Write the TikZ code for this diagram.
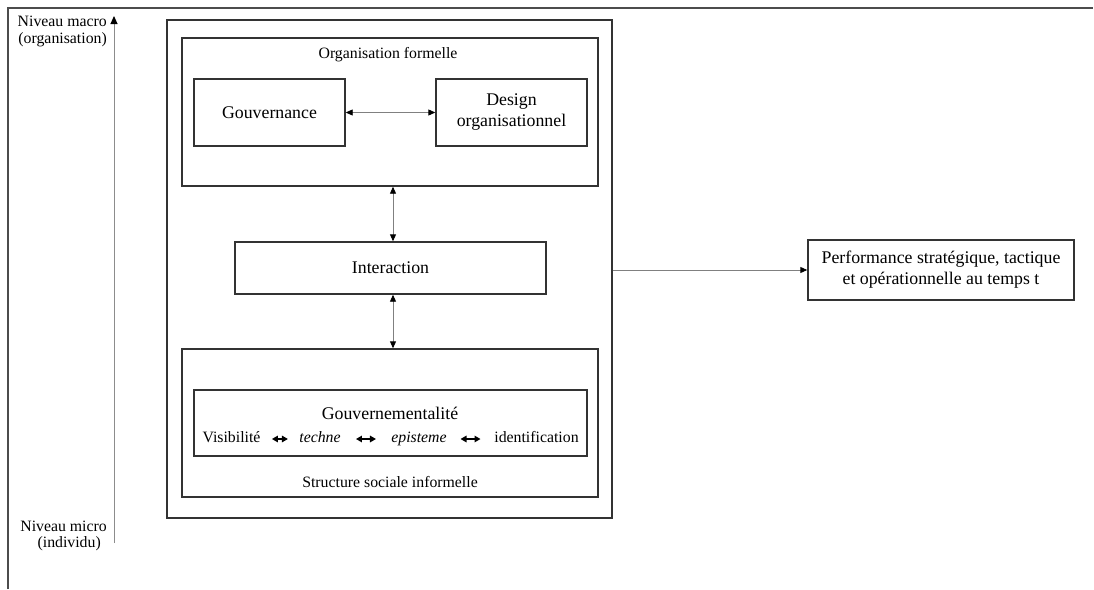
\documentclass[tikz,border=0pt]{standalone}
\usepackage{fontspec}
\setmainfont{Liberation Serif}
\usetikzlibrary{arrows.meta,calc}
\begin{document}
\begin{tikzpicture}[x=1pt,y=-1pt,
  box/.style={draw=black!80,line width=1.4pt,inner sep=0pt},
  big/.style={font=\fontsize{17.8}{21}\selectfont},
  small/.style={font=\fontsize{15.8}{19}\selectfont,inner sep=0pt},
  word/.style={small,text height=11pt,text depth=3.5pt},
  link/.style={draw=black!50,line width=0.9pt,{Triangle[length=7pt,width=6pt,color=black]}-{Triangle[length=7pt,width=6pt,color=black]}},
  flow/.style={draw=black!50,line width=0.9pt,-{Triangle[length=7pt,width=6pt,color=black]}},
  duo/.style={draw=black,line width=1.4pt,{Triangle[length=6pt,width=6.5pt]}-{Triangle[length=6pt,width=6.5pt]}},
  frame/.style={draw=black!70,line width=1.3pt}
]
\useasboundingbox (0,0) rectangle (1094,589);

% page frame
\draw[frame] (8,589) -- (8,8) -- (1093,8);

% level axis
\node[small,anchor=east] (macro1) at (107,21) {Niveau macro};
\node[small,anchor=east] (macro2) at (107,40) {(organisation)};
\node[small,anchor=east] (micro1) at (107,526) {Niveau micro};
\node[small,anchor=east] (micro2) at (101,544) {(individu)};
\coordinate (axbot) at (114,543);
\coordinate (axtop) at (114,16);
\draw[draw=black!45,line width=1pt,-{Triangle[length=8pt,width=7pt,color=black]}] (axbot) -- (axtop);

% organisation frame
\node[box,minimum width=445,minimum height=498] (outer) at (389.5,269) {};

% formal organisation
\node[box,minimum width=416,minimum height=148] (formal) at (390,112) {};
\node[small] (formallbl) at (388,55) {Organisation formelle};
\node[box,big,minimum width=151,minimum height=67] (gouv) at (269.5,112.5) {Gouvernance};
\node[box,big,minimum width=151,minimum height=67,align=center] (design) at (511.5,112.5) {Design\\organisationnel};

% interaction
\node[box,big,minimum width=311,minimum height=52] (inter) at (390.5,268) {Interaction};

% informal social structure
\node[box,minimum width=416,minimum height=148] (informal) at (390,423) {};
\node[box,minimum width=393,minimum height=66] (govtal) at (390.5,423) {};
\node[big,inner sep=0pt] (govtlbl) at (390,413) {Gouvernementalité};
\node[word] (vis) at (231.5,439) {Visibilité};
\node[word] (tech) at (320,439) {\itshape techne};
\node[word] (epis) at (419,439) {\itshape episteme};
\node[word] (ident) at (536.5,439) {identification};
\node[small] (struct) at (390,482) {Structure sociale informelle};

% performance
\node[box,big,minimum width=266,minimum height=60,align=center] (perf) at (941,270) {Performance stratégique, tactique\\et opérationnelle au temps t};

% connectors
\draw[link] (gouv.east) -- (design.west);
\draw[link] ([xshift=3pt]formal.south) -- ([xshift=2.5pt]inter.north);
\draw[link] ([xshift=2.5pt]inter.south) -- ([xshift=3pt]informal.north);
\draw[flow] (outer.east |- perf.west) -- (perf.west);

% links inside governmentality
\draw[duo] ($($(vis.east)!0.5!(tech.west)$)+(-8,0)$) -- ($($(vis.east)!0.5!(tech.west)$)+(8,0)$);
\draw[duo] ($($(tech.east)!0.5!(epis.west)$)+(-10,0)$) -- ($($(tech.east)!0.5!(epis.west)$)+(10,0)$);
\draw[duo] ($($(epis.east)!0.5!(ident.west)$)+(-10,0)$) -- ($($(epis.east)!0.5!(ident.west)$)+(10,0)$);
\end{tikzpicture}
\end{document}
